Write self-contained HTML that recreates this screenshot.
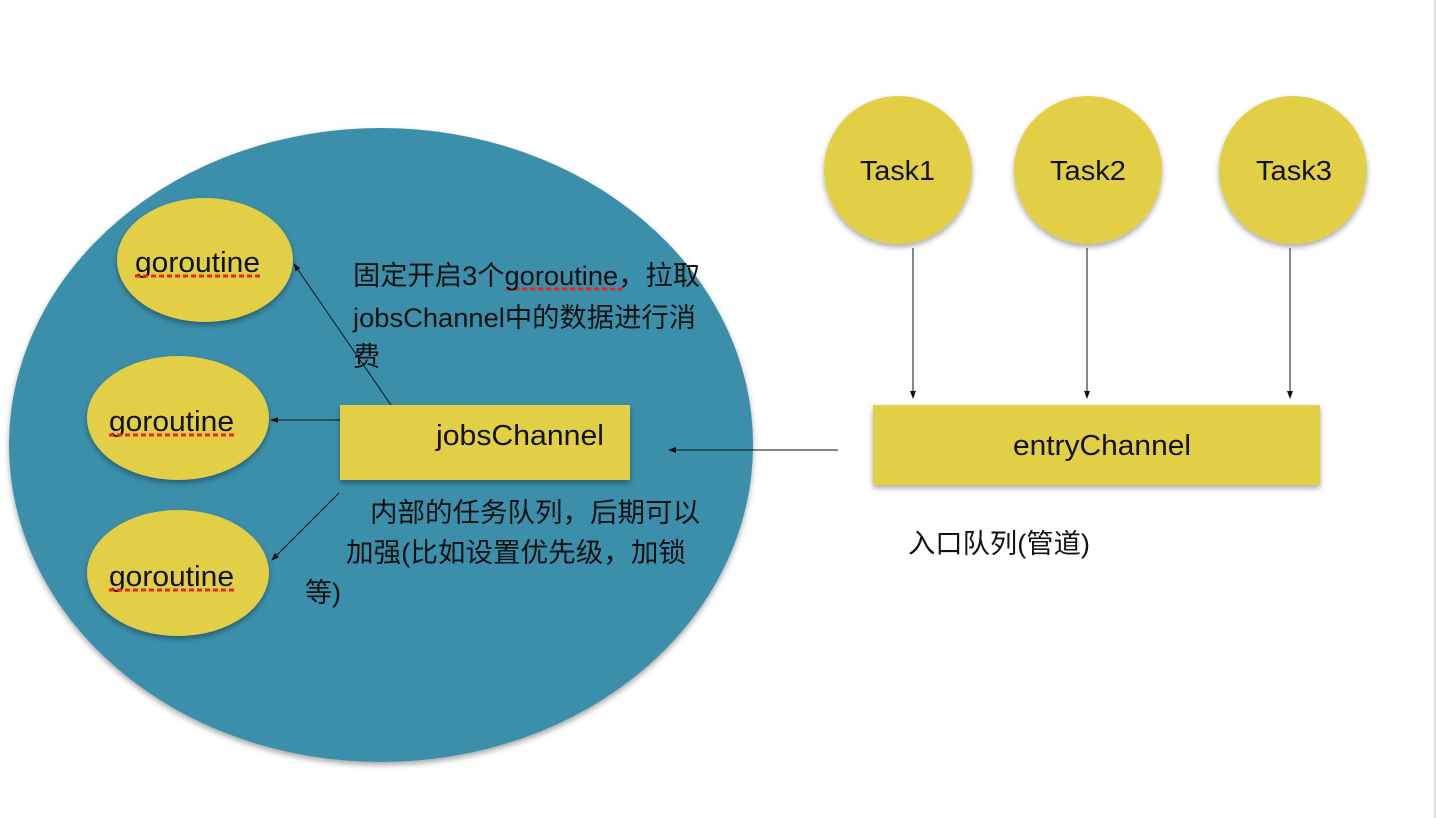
<!DOCTYPE html>
<html><head><meta charset="utf-8"><style>
body{margin:0;background:#fff;}
svg{display:block;}
text{font-family:"Liberation Sans","Noto Sans CJK SC",sans-serif;fill:#111;}
</style></head><body>
<svg width="1436" height="818" viewBox="0 0 1436 818" xmlns="http://www.w3.org/2000/svg">
<defs>
<filter id="sh" x="-20%" y="-20%" width="140%" height="140%"><feDropShadow dx="0" dy="3" stdDeviation="3" flood-color="#000" flood-opacity="0.35"/></filter>
<marker id="ah" markerWidth="8" markerHeight="8" refX="7" refY="4" orient="auto" markerUnits="userSpaceOnUse"><path d="M0,1 L8,4 L0,7 z" fill="#111"/></marker>
</defs>
<rect x="1434" y="0" width="2" height="818" fill="#ddd"/>
<ellipse cx="381" cy="445" rx="372" ry="317" fill="#3b8fab" filter="url(#sh)"/>
<g fill="#e3cf44" filter="url(#sh)">
<ellipse cx="205" cy="260" rx="88" ry="62"/>
<ellipse cx="178" cy="418" rx="91" ry="62"/>
<ellipse cx="178" cy="573" rx="91" ry="63"/>
<rect x="340" y="405" width="290" height="75"/>
<circle cx="898" cy="170" r="74"/>
<circle cx="1088" cy="170" r="74"/>
<circle cx="1293" cy="170" r="74"/>
<rect x="873" y="405" width="447" height="80"/>
</g>
<g font-size="29">
<text x="135" y="272" textLength="125" lengthAdjust="spacingAndGlyphs">goroutine</text>
<text x="109" y="431" textLength="125" lengthAdjust="spacingAndGlyphs">goroutine</text>
<text x="109" y="586" textLength="125" lengthAdjust="spacingAndGlyphs">goroutine</text>
</g>
<g stroke="#e22" stroke-width="3" stroke-dasharray="5,3">
<line x1="135" y1="276" x2="260" y2="276"/>
<line x1="109" y1="435" x2="234" y2="435"/>
<line x1="109" y1="590" x2="234" y2="590"/>
<line x1="506" y1="289" x2="622" y2="289"/>
</g>
<text x="436" y="445" font-size="29" textLength="168" lengthAdjust="spacingAndGlyphs">jobsChannel</text>
<text x="1013" y="455" font-size="29" textLength="178" lengthAdjust="spacingAndGlyphs">entryChannel</text>
<text x="860" y="180" font-size="28" textLength="75" lengthAdjust="spacingAndGlyphs">Task1</text>
<text x="1050" y="180" font-size="28" textLength="76" lengthAdjust="spacingAndGlyphs">Task2</text>
<text x="1256" y="180" font-size="28" textLength="76" lengthAdjust="spacingAndGlyphs">Task3</text>
<g font-size="27">
<text x="353" y="285" textLength="347" lengthAdjust="spacingAndGlyphs">固定开启3个goroutine，拉取</text>
<text x="353" y="327" textLength="343" lengthAdjust="spacingAndGlyphs">jobsChannel中的数据进行消</text>
<text x="353" y="366">费</text>
<text x="370" y="522" textLength="330" lengthAdjust="spacingAndGlyphs">内部的任务队列，后期可以</text>
<text x="346" y="562" textLength="340" lengthAdjust="spacingAndGlyphs">加强(比如设置优先级，加锁</text>
<text x="305" y="602">等)</text>
<text x="908" y="553" textLength="182" lengthAdjust="spacingAndGlyphs">入口队列(管道)</text>
</g>
<g stroke="#111" stroke-width="1" marker-end="url(#ah)">
<line x1="391" y1="405" x2="294" y2="264"/>
<line x1="340" y1="420" x2="271" y2="420"/>
<line x1="339" y1="493" x2="272" y2="560"/>
<line x1="838" y1="450" x2="669" y2="450"/>
<line x1="913" y1="248" x2="913" y2="398"/>
<line x1="1087" y1="248" x2="1087" y2="398"/>
<line x1="1290" y1="248" x2="1290" y2="398"/>
</g>
</svg>
</body></html>
